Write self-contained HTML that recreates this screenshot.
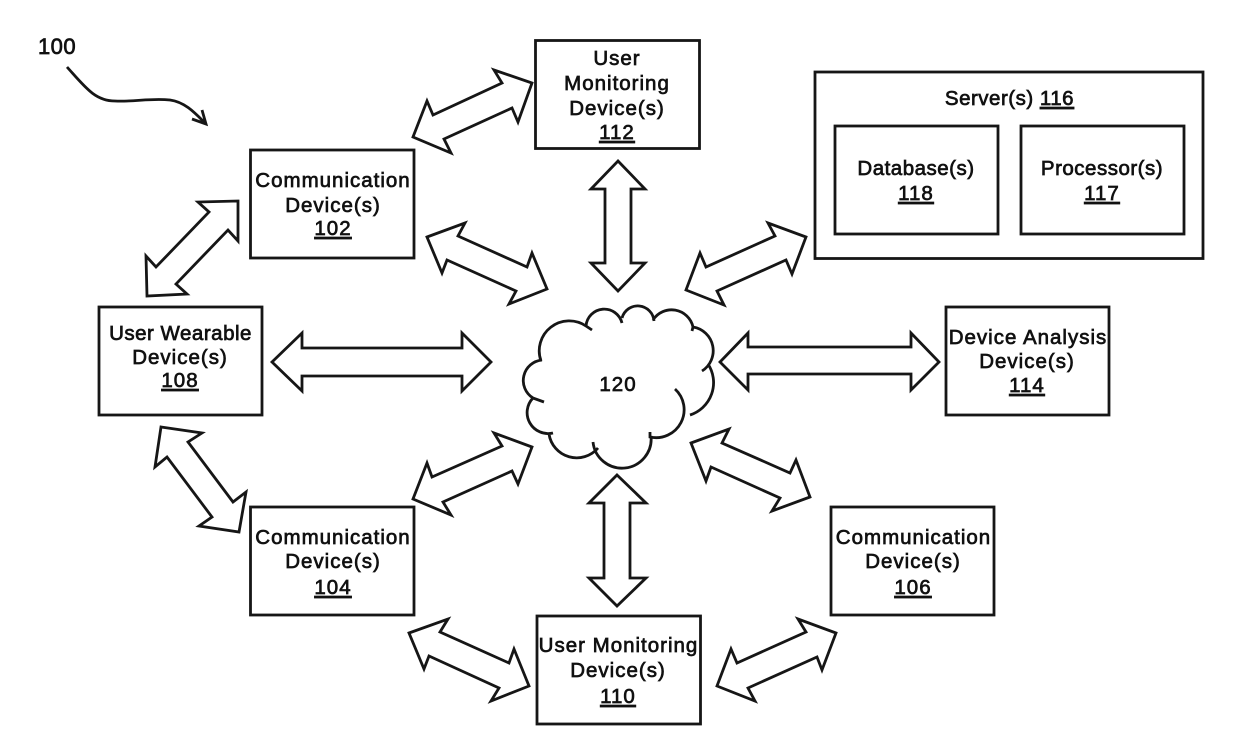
<!DOCTYPE html>
<html><head><meta charset="utf-8"><style>
html,body{margin:0;padding:0;background:#fff}
svg{display:block}
text{font-family:"Liberation Sans",sans-serif;font-size:20.5px;letter-spacing:1px;fill:#111;stroke:#111;stroke-width:.7px;text-anchor:middle}
.n{letter-spacing:.5px}
.u{text-decoration:underline}
rect,polygon,path.l{fill:none;stroke:#161616;stroke-width:2.8}
polygon{fill:#fff}
</style></head><body>
<svg width="1240" height="751" viewBox="0 0 1240 751" xmlns="http://www.w3.org/2000/svg">
<rect x="535.5" y="40.5" width="164" height="108"/>
<rect x="815" y="72" width="388" height="186.500"/>
<rect x="835" y="126" width="163" height="108"/>
<rect x="1021" y="126" width="163" height="108"/>
<rect x="250.5" y="150" width="163.500" height="108"/>
<rect x="99" y="307" width="163" height="108"/>
<rect x="946" y="307" width="163" height="108"/>
<rect x="250.500" y="507" width="163.500" height="108"/>
<rect x="831" y="507" width="163" height="108"/>
<rect x="537" y="616" width="163.500" height="108"/>

<polygon points="413,137 427,101 433,115 502,83 494,70 532,83 518,122 512,108 444,139 451,153"/>
<polygon points="238,201 198,202 209,212 156,267 146,256 147,296 187,294 176,284 228,230 238,241"/>
<polygon points="427,237 465,223 458,236 527,267 532,253 547,289 509,304 516,291 447,260 442,273"/>
<polygon points="618,161 645,189 631,189 631,263 645,263 618,291 591,263 605,263 605,189 591,189"/>
<polygon points="617,475 646,503 630,503 630,578 646,578 617,606 589,578 604,578 604,503 589,503"/>
<polygon points="272,362 302,333 302,348 462,348 462,333 491,362 462,391 462,376 302,376 302,391"/>
<polygon points="720,362 748,333 748,347 911,347 911,333 939,362 911,390 911,374 748,374 748,390"/>
<polygon points="686,290 700,253 706,267 775,236 768,223 806,237 792,274 786,260 717,291 724,305"/>
<polygon points="413,499 427,463 432,477 502,446 494,433 532,447 518,484 512,471 443,502 451,515"/>
<polygon points="161,427 202,433 188,442 233,502 246,492 239,532 199,526 212,517 167,457 155,467"/>
<polygon points="691,443 729,429 722,443 790,473 796,460 810,497 772,511 780,498 711,467 706,481"/>
<polygon points="409,633 448,619 440,632 509,663 514,649 529,686 491,701 499,688 429,656 424,669"/>
<polygon points="717,686 731,649 737,663 806,632 798,619 836,633 822,670 817,657 748,688 755,701"/>

<path class="l" d="M67,67 C85,87 95,101 115,101 C135,102 150,98 170,100 C185,102 195,113 205,123 M202,110 L206,124 L192,119"/>

<path class="l" d="M541,361 A30,30 0 0 1 586,326 L592,330 M586,326 A18.300,18.300 0 0 1 622,323 M622,318 A16.300,16.300 0 0 1 654,321 M653,320 A22,22 0 0 1 693,327 L692,331 M693,327 A24,24 0 0 1 702,371 M708,364 A34,34 0 0 1 690,415 M675,389 A28,28 0 0 1 650,437 L650,432 M651,436 A29,29 0 0 1 593,442 M598,448 A28,28 0 0 1 549,434 M553,433 A21,21 0 0 1 533,398 L544,402 M533,398 A20.600,20.600 0 0 1 542,360"/>

<text x="57" y="54" style="font-size:22px;letter-spacing:.4px">100</text>
<text x="618" y="391">120</text>

<text x="617" y="65">User</text>
<text x="617" y="90">Monitoring</text>
<text x="617" y="115">Device(s)</text>
<text x="617" y="139" class="u">112</text>

<text x="1009.500" y="105" class="n">Server(s) <tspan class="u">116</tspan></text>
<text x="916" y="175" class="n">Database(s)</text>
<text x="916" y="200" class="u">118</text>
<text x="1102" y="175" class="n">Processor(s)</text>
<text x="1102" y="200" class="u">117</text>

<text x="333" y="187">Communication</text>
<text x="333" y="212">Device(s)</text>
<text x="333" y="235" class="u">102</text>

<text x="180.500" y="340" class="n">User Wearable</text>
<text x="180" y="364">Device(s)</text>
<text x="180" y="387" class="u">108</text>

<text x="1028" y="344">Device Analysis</text>
<text x="1027" y="368">Device(s)</text>
<text x="1027" y="392" class="u">114</text>

<text x="333" y="544">Communication</text>
<text x="333" y="568">Device(s)</text>
<text x="333" y="594" class="u">104</text>

<text x="913.500" y="544">Communication</text>
<text x="913" y="568">Device(s)</text>
<text x="913" y="594" class="u">106</text>

<text x="618.500" y="652">User Monitoring</text>
<text x="618" y="677">Device(s)</text>
<text x="618" y="703" class="u">110</text>
</svg>
</body></html>
